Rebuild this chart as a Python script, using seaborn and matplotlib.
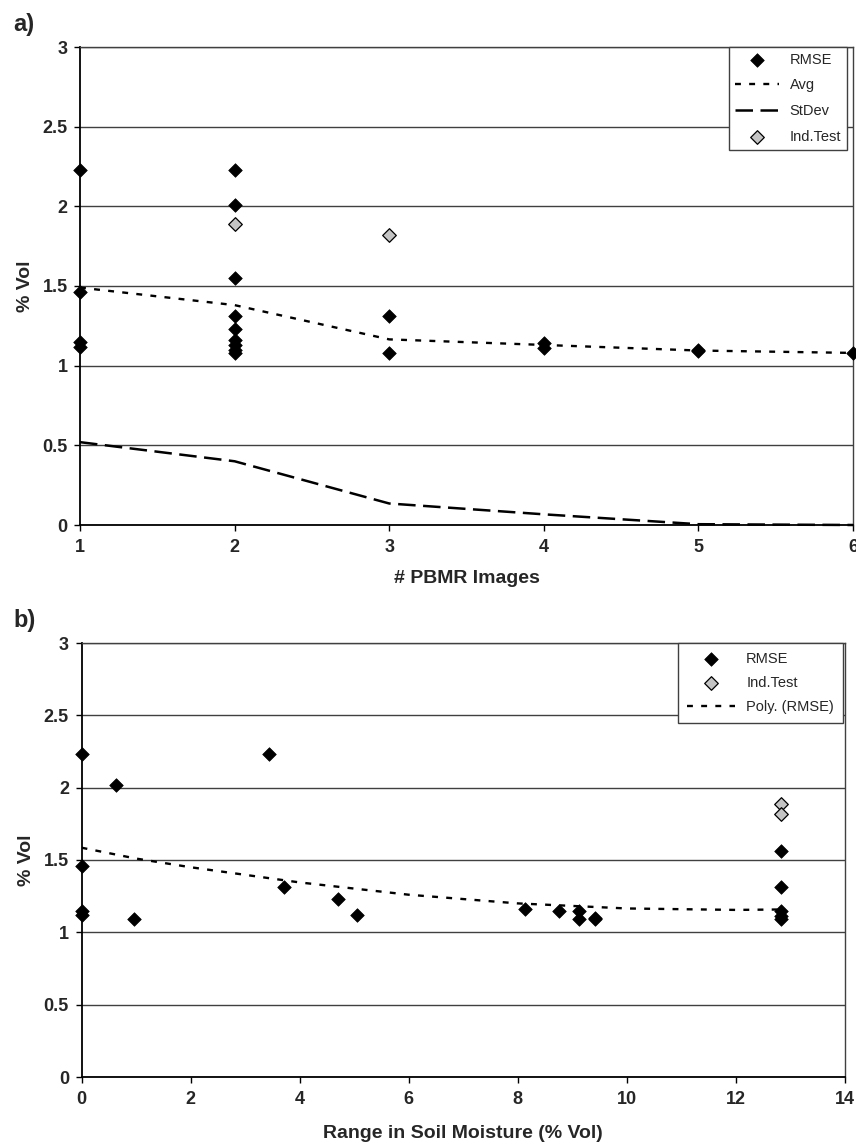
import numpy as np
import pandas as pd
import seaborn as sns
import matplotlib.pyplot as plt

# a) RMSE against number of PBMR images
a_rmse_x = [1, 1, 1, 1, 2, 2, 2, 2, 2, 2, 2, 2, 2, 3, 3, 4, 4, 5, 5, 6]
a_rmse_y = [2.23, 1.46, 1.15, 1.12, 2.23, 2.01, 1.55, 1.31, 1.23, 1.16, 1.13,
            1.10, 1.08, 1.31, 1.08, 1.14, 1.11, 1.10, 1.09, 1.08]
a_test_x = [2, 3]
a_test_y = [1.89, 1.82]
a_images = [1, 2, 3, 4, 5, 6]
a_avg = [1.49, 1.38, 1.165, 1.13, 1.095, 1.08]
a_stdev = [0.52, 0.40, 0.135, 0.067, 0.005, 0.0]

# b) RMSE against range in soil moisture
b_rmse_x = [0, 0, 0, 0, 0.63, 0.97, 3.44, 3.71, 4.71, 5.05, 8.13, 8.75, 9.13,
            9.13, 9.41, 9.41, 12.82, 12.82, 12.82, 12.82, 12.82]
b_rmse_y = [2.23, 1.46, 1.15, 1.12, 2.02, 1.09, 2.23, 1.31, 1.23, 1.12, 1.16,
            1.15, 1.15, 1.09, 1.10, 1.09, 1.56, 1.31, 1.15, 1.11, 1.09]
b_test_x = [12.82, 12.82]
b_test_y = [1.89, 1.82]
b_poly_x = [0, 1, 2, 4, 6, 8, 10, 12, 12.82]
b_poly_y = [1.585, 1.51, 1.45, 1.345, 1.26, 1.20, 1.165, 1.155, 1.158]

sns.set_style("white")
plt.rcParams["font.family"] = ["Liberation Sans", "DejaVu Sans"]

DOT = (0, (2.5, 3.5))
LONG = (0, (7.0, 3.0))
GRID = "#404040"
TEST_GRAY = "#c4c4c4"


def style_axes(ax, xticks, xlabel, xpad):
    ax.set_ylim(0, 3)
    ax.set_yticks(np.arange(0, 3.01, 0.5))
    ax.set_yticklabels(["0", "0.5", "1", "1.5", "2", "2.5", "3"])
    ax.set_xticks(xticks)
    ax.set_xticklabels([str(t) for t in xticks])
    ax.yaxis.grid(True, color=GRID, lw=1.0)
    ax.xaxis.grid(False)
    ax.set_axisbelow(True)
    for side in ["top", "right"]:
        ax.spines[side].set_color(GRID)
        ax.spines[side].set_linewidth(1.0)
    for side in ["left", "bottom"]:
        ax.spines[side].set_color("black")
        ax.spines[side].set_linewidth(1.3)
    ax.tick_params(axis="both", direction="out", length=4, width=1.0,
                   color="black", labelsize=13, left=True, bottom=True)
    ax.tick_params(axis="x", pad=6)
    ax.tick_params(axis="y", pad=5)
    for lab in ax.get_xticklabels() + ax.get_yticklabels():
        lab.set_fontweight("bold")
    ax.set_xlabel(xlabel, fontsize=14, fontweight="bold", labelpad=xpad)
    ax.set_ylabel("% Vol", fontsize=14, fontweight="bold", labelpad=6)


def box_legend(ax, names, anchor_x, handle_len, pad, spacing):
    h, l = ax.get_legend_handles_labels()
    order = [l.index(k) for k in names]
    leg = ax.legend([h[i] for i in order], [l[i] for i in order],
                    loc="upper right", bbox_to_anchor=(anchor_x, 1),
                    borderaxespad=0, fontsize=10.5, frameon=True,
                    fancybox=False, edgecolor=GRID, framealpha=1,
                    handlelength=handle_len, handletextpad=0.75,
                    labelspacing=spacing, borderpad=pad)
    leg.get_frame().set_linewidth(1.0)
    return leg


fig = plt.figure(figsize=(8.56, 11.46), dpi=100)
W, H = 856, 1146
ax_a = fig.add_axes([80 / W, 1 - 525 / H, (853 - 80) / W, (525 - 47) / H])
ax_b = fig.add_axes([81.5 / W, 1 - 1077 / H, (845 - 81.5) / W, (1077 - 643) / H])

# panel a
sns.scatterplot(x=a_rmse_x, y=a_rmse_y, ax=ax_a, marker="D", s=48,
                color="black", edgecolor="black", linewidth=0.5,
                label="RMSE", zorder=4, clip_on=False)
sns.lineplot(x=a_images, y=a_avg, ax=ax_a, color="black", lw=1.7,
             linestyle=DOT, label="Avg", sort=False, zorder=3)
sns.lineplot(x=a_images, y=a_stdev, ax=ax_a, color="black", lw=1.8,
             linestyle=LONG, label="StDev", sort=False, zorder=3, clip_on=False)
sns.scatterplot(x=a_test_x, y=a_test_y, ax=ax_a, marker="D", s=48,
                color=TEST_GRAY, edgecolor="black", linewidth=0.9,
                label="Ind.Test", zorder=4)
ax_a.set_xlim(1, 6)
style_axes(ax_a, [1, 2, 3, 4, 5, 6], "# PBMR Images", 10)
box_legend(ax_a, ["RMSE", "Avg", "StDev", "Ind.Test"], 0.992, 3.0, 0.4, 0.8)

# panel b
sns.scatterplot(x=b_rmse_x, y=b_rmse_y, ax=ax_b, marker="D", s=48,
                color="black", edgecolor="black", linewidth=0.5,
                label="RMSE", zorder=4, clip_on=False)
sns.scatterplot(x=b_test_x, y=b_test_y, ax=ax_b, marker="D", s=48,
                color=TEST_GRAY, edgecolor="black", linewidth=0.9,
                label="Ind.Test", zorder=4)
sns.lineplot(x=b_poly_x, y=b_poly_y, ax=ax_b, color="black", lw=1.7,
             linestyle=DOT, label="Poly. (RMSE)", sort=False, zorder=3)
ax_b.set_xlim(0, 14)
style_axes(ax_b, [0, 2, 4, 6, 8, 10, 12, 14], "Range in Soil Moisture (% Vol)", 12)
box_legend(ax_b, ["RMSE", "Ind.Test", "Poly. (RMSE)"], 0.997, 3.3, 0.6, 0.7)

fig.text(13 / W, 1 - 25 / H, "a)", fontsize=17, fontweight="bold", va="center")
fig.text(13 / W, 1 - 621 / H, "b)", fontsize=17, fontweight="bold", va="center")

fig.savefig("out.png", dpi=100)
plt.close(fig)
